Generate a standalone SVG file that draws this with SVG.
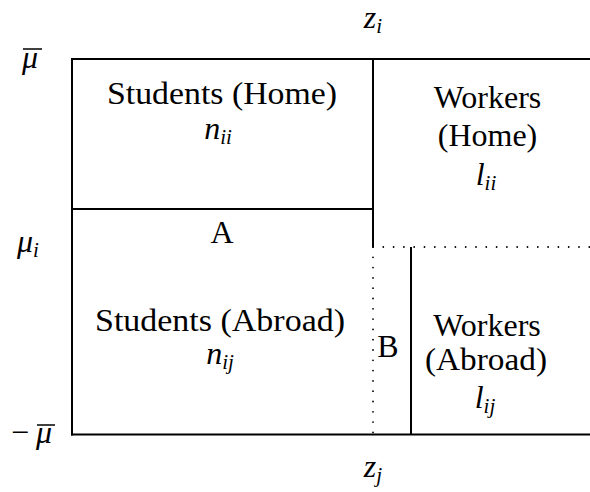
<svg xmlns="http://www.w3.org/2000/svg" width="590" height="492" viewBox="0 0 590 492">
<style>
.ln{stroke:#000;stroke-width:2;fill:none}
.dot{stroke:#000;stroke-width:1.8;fill:none;stroke-linecap:round;stroke-dasharray:0 10.3}
.t{font-family:'Liberation Serif','DejaVu Serif','Times New Roman',serif;font-size:32px;fill:#000}
.c{text-anchor:middle}
.m{font-style:italic}
.s{font-size:21px}
</style>
<g id="connectors">
<line class="ln" x1="71" y1="59" x2="590" y2="59"/>
<line class="ln" x1="72" y1="58" x2="72" y2="435.5"/>
<line class="ln" x1="71" y1="434.5" x2="590" y2="434.5"/>
<line class="ln" x1="373" y1="58" x2="373" y2="247"/>
<line class="ln" x1="72" y1="209" x2="374" y2="209"/>
<line class="ln" x1="411" y1="247" x2="411" y2="435"/>
<line class="dot" x1="373" y1="247" x2="590" y2="247"/>
<line class="dot" x1="373" y1="247" x2="373" y2="434"/>
</g>
<g id="students-home">
<text class="t c" x="222" y="104" textLength="230" lengthAdjust="spacingAndGlyphs">Students (Home)</text>
<text class="t c m" x="218" y="139">n<tspan class="s" dy="5">ii</tspan></text>
</g>
<g id="workers-home">
<text class="t c" x="487.5" y="108">Workers</text>
<text class="t c" x="487.5" y="146">(Home)</text>
<text class="t c m" x="486" y="185">l<tspan class="s" dy="5">ii</tspan></text>
</g>
<g id="label-A"><text class="t c" x="222" y="243">A</text></g>
<g id="students-abroad">
<text class="t c" x="220" y="331" textLength="250" lengthAdjust="spacingAndGlyphs">Students (Abroad)</text>
<text class="t c m" x="220" y="364">n<tspan class="s" dy="5">ij</tspan></text>
</g>
<g id="label-B"><text class="t c" x="388" y="357">B</text></g>
<g id="workers-abroad">
<text class="t c" x="487" y="336">Workers</text>
<text class="t c" x="486" y="370" textLength="122" lengthAdjust="spacingAndGlyphs">(Abroad)</text>
<text class="t c m" x="485" y="408">l<tspan class="s" dy="5">ij</tspan></text>
</g>
<g id="axis-labels">
<text class="t c m" x="373" y="28">z<tspan class="s" dy="5">i</tspan></text>
<text class="t c m" x="373" y="477">z<tspan class="s" dy="5">j</tspan></text>
<text class="t m" x="22" y="68">μ</text>
<line class="ln" x1="23" y1="49" x2="42" y2="49" style="stroke-width:1.5"/>
<text class="t m" x="17" y="252">μ<tspan class="s" dy="5">i</tspan></text>
<text class="t" x="11" y="443">−</text>
<text class="t m" x="36" y="443">μ</text>
<line class="ln" x1="37" y1="425" x2="55" y2="425" style="stroke-width:1.5"/>
</g>
</svg>
